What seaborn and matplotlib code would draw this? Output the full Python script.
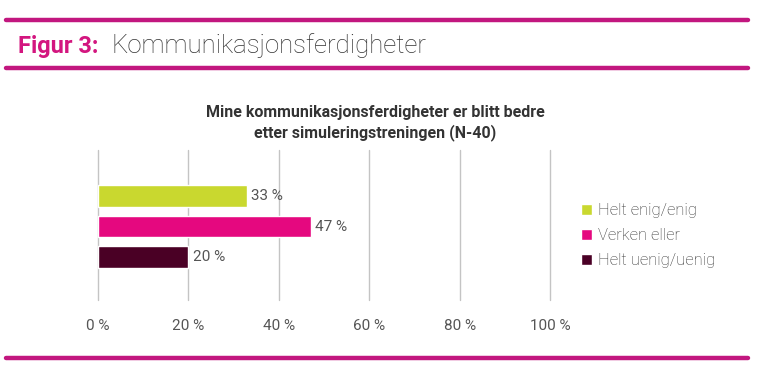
import matplotlib
matplotlib.use("Agg")
import matplotlib.pyplot as plt
import seaborn as sns
import pandas as pd
from matplotlib.lines import Line2D

categories = ["Helt enig/enig", "Verken eller", "Helt uenig/uenig"]
values = [33, 47, 20]
colors = ["#C9D82F", "#E5087F", "#4A0025"]
xticks = [0, 20, 40, 60, 80, 100]
xtick_labels = ["0 %", "20 %", "40 %", "60 %", "80 %", "100 %"]

sns.set_theme(style="white")
plt.rcParams["font.family"] = ["Roboto", "DejaVu Sans"]

df = pd.DataFrame({"cat": categories, "val": values})

fig = plt.figure(figsize=(7.66, 3.83), dpi=100)
ax = fig.add_axes([0.1279, 0.2167, 0.5905, 0.3917])

sns.barplot(data=df, x="val", y="cat", hue="cat", palette=colors, width=0.72,
            order=categories, hue_order=categories, legend=True, ax=ax, saturation=1)

ax.set_xlim(0, 100)
ax.set_ylim(3.41, -1.51)
ax.set_xticks(xticks)
ax.set_xticklabels(xtick_labels, color="#555555", fontsize=11)
ax.tick_params(axis="x", length=0, pad=14)
ax.set_yticks([])
ax.set_xlabel("")
ax.set_ylabel("")
for s in ax.spines.values():
    s.set_visible(False)
ax.grid(axis="x", color="#C4C4C4", linewidth=1)
for gl in ax.get_xgridlines():
    gl.set_clip_on(False)
ax.set_axisbelow(True)

for cont in ax.containers:
    ax.bar_label(cont, labels=[f"{v:.0f} %" for v in cont.datavalues],
                 padding=3, color="#555555", fontsize=11)

leg = ax.legend(loc="upper left", bbox_to_anchor=(1.035, 0.745), frameon=False,
                prop={"size": 12, "weight": "light"}, handlelength=0.65, handleheight=0.65,
                handletextpad=0.35, labelspacing=0.6, labelcolor="#333333")

ax.set_title("Mine kommunikasjonsferdigheter er blitt bedre\netter simuleringstreningen (N-40)",
             fontsize=11.5, fontweight="bold", color="#333333", pad=9, x=0.613,
             linespacing=1.35)

# decorative pink rules
pink = "#C2177F"
for y in [20, 68, 358]:
    yf = 1 - y / 383
    fig.add_artist(Line2D([6 / 766, 748 / 766], [yf, yf], color=pink, linewidth=3.2,
                          transform=fig.transFigure))

fig.text(18 / 766, 1 - 46 / 383, "Figur 3:", fontsize=17, fontweight="bold",
         color="#D3167F", va="center", ha="left")
fig.text(112 / 766, 1 - 46 / 383, "Kommunikasjonsferdigheter", fontsize=18.5,
         fontweight="light", color="#333333", va="center", ha="left")

fig.savefig("out.png", dpi=100)
